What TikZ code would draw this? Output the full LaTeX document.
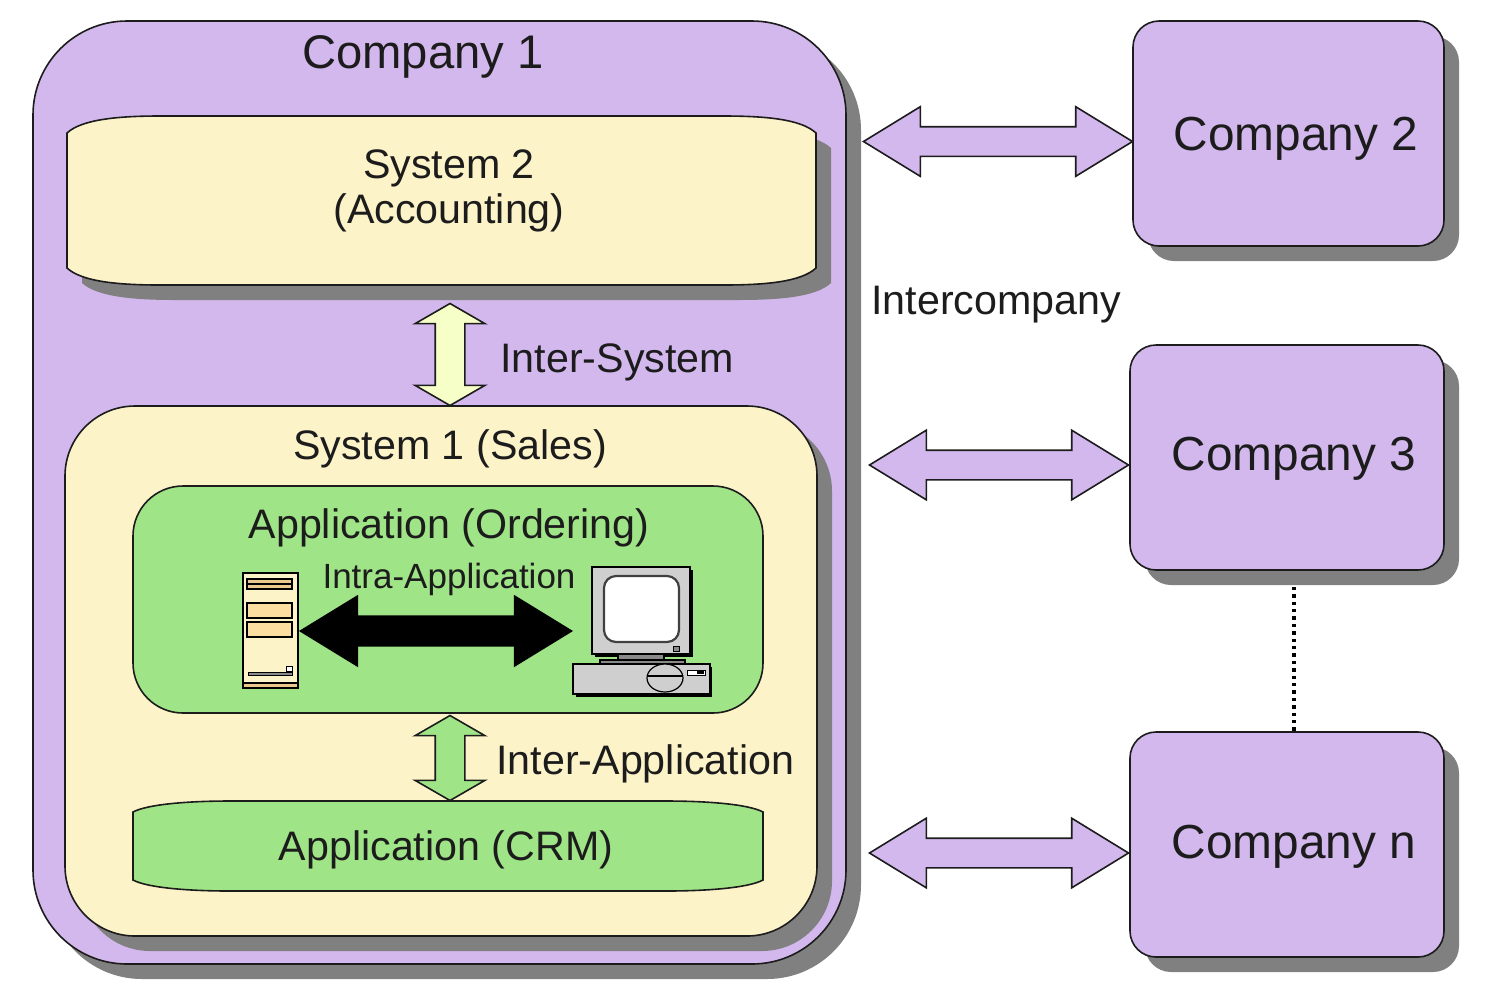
\documentclass[tikz,border=0pt]{standalone}
\usepackage{fontspec}
\setmainfont{Liberation Sans}
\usetikzlibrary{shapes.arrows,shadows}
\definecolor{lilac}{HTML}{D3B8EE}
\definecolor{cream}{HTML}{FDF3C9}
\definecolor{leaf}{HTML}{A0E488}
\definecolor{castshadow}{HTML}{808080}
\definecolor{paleyellow}{HTML}{F6FFC8}
\definecolor{inkline}{HTML}{1C1C1C}
\definecolor{tan}{HTML}{FCDFA0}
\definecolor{tandark}{HTML}{EBC88C}
\definecolor{casegray}{HTML}{CFCFCF}
\definecolor{midgray}{HTML}{8A8A8A}
\tikzset{
  boxshadow/.style={copy shadow={shadow xshift=7.5pt,shadow yshift=-7.5pt,fill=castshadow,draw=none}},
  outline/.style={draw=inkline,line width=0.8pt},
  companybox/.style={outline,fill=lilac,rounded corners=13pt,inner sep=0pt,minimum width=#1,minimum height=112.5pt,boxshadow},
  panel/.style n args={4}{outline,fill=#1,rounded corners=#2,inner sep=0pt,minimum width=#3,minimum height=#4},
  flowarrow/.style n args={4}{double arrow,outline,fill=#1,inner xsep=0pt,inner ysep=7pt,minimum height=#2,minimum width=34pt,
    double arrow head extend=#3,double arrow tip angle=#4},
  bigtext/.style={font=\fontsize{23.9pt}{26pt}\selectfont,text=inkline,inner sep=0pt},
  midtext/.style={font=\fontsize{20.6pt}{24pt}\selectfont,text=inkline,inner sep=0pt},
  smalltext/.style={font=\fontsize{17.5pt}{20pt}\selectfont,text=inkline,inner sep=0pt},
  gear/.style={draw=black,line width=0.9pt},
}
\begin{document}
\begin{tikzpicture}[x=0.5pt,y=-0.5pt]
\useasboundingbox (0,0) rectangle (1488,987);
\fill[white] (0,0) rectangle (1488,987);

% Company 1 and the two system panels
\node[panel={lilac}{47pt}{406.5pt}{471.5pt},boxshadow] (company one) at (439.5,492.5) {};
\node[bigtext,font=\fontsize{23.6pt}{26pt}\selectfont,anchor=base] (company one title) at (423,68) {Company 1};

% System 2: barrel-shaped panel with its shadow
\fill[castshadow,xshift=7.5pt,yshift=-7.5pt]
  (67,133) .. controls (82,119) and (120,116) .. (160,116) -- (723,116)
  .. controls (765,116) and (801,119) .. (816,133) -- (816,268)
  .. controls (801,282) and (765,285) .. (723,285) -- (160,285)
  .. controls (120,285) and (82,282) .. (67,268) -- cycle;
\draw[outline,fill=cream]
  (67,133) .. controls (82,119) and (120,116) .. (160,116) -- (723,116)
  .. controls (765,116) and (801,119) .. (816,133) -- (816,268)
  .. controls (801,282) and (765,285) .. (723,285) -- (160,285)
  .. controls (120,285) and (82,282) .. (67,268) -- cycle;
\node[midtext,anchor=base] (system two a) at (449,178) {System 2};
\node[midtext,anchor=base] (system two b) at (449,223) {(Accounting)};

% System 1 panel
\node[panel={cream}{35pt}{376pt}{265pt},boxshadow] (system one) at (441,671) {};
\node[midtext,anchor=base] (system one title) at (450,459) {System 1 (Sales)};

% Application (Ordering)
\node[panel={leaf}{25pt}{315pt}{113.5pt}] (ordering) at (448,599.5) {};
\node[midtext,anchor=base] (ordering title) at (449,538) {Application (Ordering)};
\node[smalltext,anchor=base] (intra label) at (449,588) {Intra-Application};

% Application (CRM): barrel-shaped panel
\draw[outline,fill=leaf]
  (133,812) .. controls (148,804) and (190,801) .. (230,801) -- (666,801)
  .. controls (706,801) and (748,804) .. (763,812) -- (763,880)
  .. controls (748,888) and (706,891) .. (666,891) -- (230,891)
  .. controls (190,891) and (148,888) .. (133,880) -- cycle;
\node[midtext,anchor=base] (crm title) at (446,860) {Application (CRM)};

% Tower server
\fill[tandark,draw=black,line width=0.7pt] (243,680) rectangle (298,688);
\draw[gear,fill=cream,line width=1.1pt] (243,573) rectangle (298,683);
\draw[gear,fill=tandark] (247,579) rectangle (292,589);
\draw[gear,line width=0.6pt] (247,584) -- (292,584);
\draw[gear,fill=tan] (247,603) rectangle (292,618);
\draw[gear,fill=tan] (247,622) rectangle (292,637);
\draw[black,fill=white,line width=0.5pt] (286,666) rectangle (292,671);
\draw[black,fill=midgray,line width=0.4pt] (248,672) rectangle (292,675);

% Desktop computer
\fill[black] (595,570) rectangle (693,657);
\draw[gear,fill=casegray] (592,567) rectangle (690,654);
\draw[black!75,fill=white,line width=1.1pt,rounded corners=6pt] (604,576) rectangle (679,642);
\draw[black,fill=midgray,line width=0.4pt] (673,646) rectangle (679,651);
\draw[gear,fill=midgray,line width=0.6pt] (618,654) rectangle (664,661);
\draw[gear,fill=midgray,line width=0.6pt] (600,660) rectangle (685,664);
\fill[black] (576,667) rectangle (712,697);
\draw[gear,fill=casegray] (573,664) rectangle (710,694);
\draw[black,line width=0.6pt,fill=casegray] (665,678) ellipse [x radius=9pt,y radius=7pt];
\draw[black,line width=0.7pt] (647,676) -- (683,676);
\draw[black,fill=white,line width=0.5pt] (687,670) rectangle (705,675);
\fill[black] (697,671) rectangle (704,674);

% Data-flow arrows between the layers
\node[flowarrow={black}{135.5pt}{10pt}{63},draw=black] (intra arrow) at (436,631) {};
\node[flowarrow={paleyellow}{51pt}{10pt}{120},rotate=90] (system arrow) at (450,354.5) {};
\node[midtext,anchor=base west] (system arrow label) at (500,372) {Inter-System};
\node[flowarrow={leaf}{42.5pt}{10pt}{120},rotate=90] (application arrow) at (450,758) {};
\node[midtext,anchor=base west] (application arrow label) at (496,774) {Inter-Application};

% Partner companies
\node[companybox=155.5pt] (company two) at (1288.5,133.5) {};
\node[bigtext,anchor=base] (company two title) at (1296,150) {Company 2};
\node[companybox=157pt] (company three) at (1287,457.5) {};
\node[bigtext,anchor=base] (company three title) at (1294,470) {Company 3};
\node[companybox=157pt] (company n) at (1287,844.5) {};
\node[bigtext,anchor=base] (company n title) at (1294,858) {Company n};

% Links between the companies
\node[flowarrow={lilac}{134.5pt}{10pt}{63}] (link two) at (998,141.5) {};
\node[flowarrow={lilac}{129.5pt}{10pt}{63}] (link three) at (999,465) {};
\node[flowarrow={lilac}{129.5pt}{10pt}{63}] (link n) at (999,853) {};
\node[midtext,anchor=base west] (intercompany) at (871,314) {Intercompany};
\draw[black,line width=1.7pt,dotted] ([xshift=3.5pt,yshift=-8pt]company three.south) -- ([xshift=3.5pt]company n.north);
\end{tikzpicture}
\end{document}
